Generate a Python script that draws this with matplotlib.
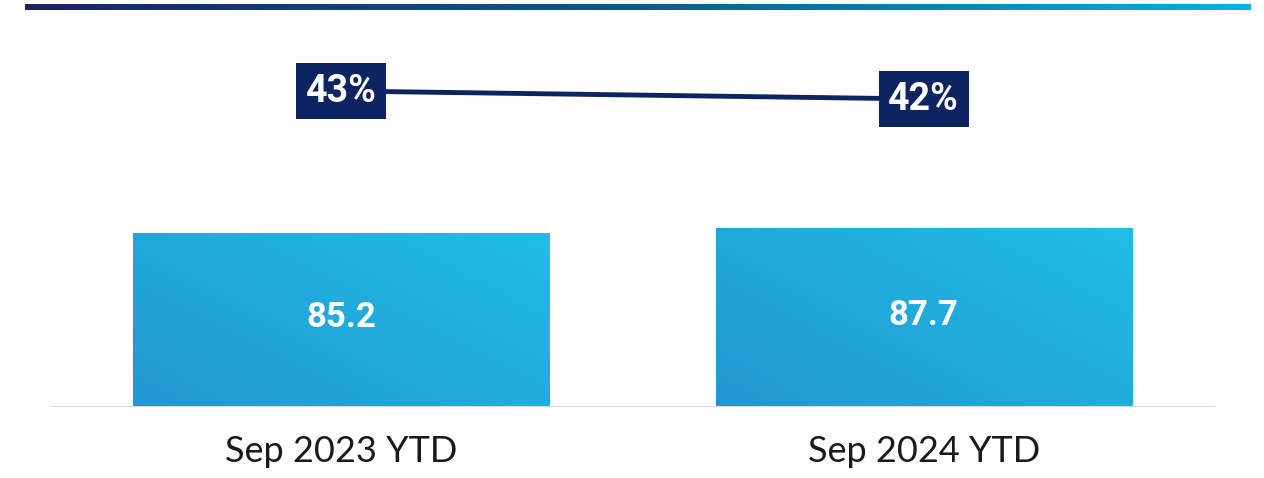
import numpy as np
import matplotlib
matplotlib.use("Agg")
import matplotlib.pyplot as plt
from matplotlib.colors import LinearSegmentedColormap
from matplotlib.patches import Rectangle

# data
categories = ["Sep 2023 YTD", "Sep 2024 YTD"]
bar_values = [85.2, 87.7]
bar_labels = ["85.2", "87.7"]
pct_values = [43, 42]
pct_labels = ["43%", "42%"]

W, H = 1264, 478
fig = plt.figure(figsize=(W / 100, H / 100), dpi=100)

# top gradient rule
top = fig.add_axes([25 / W, (H - 10) / H, 1226 / W, 6 / H])
rule_cmap = LinearSegmentedColormap.from_list("rule", ["#1b2461", "#0a5a92", "#00b4e2"])
top.imshow(np.linspace(0, 1, 256)[None, :], aspect="auto", cmap=rule_cmap, extent=[0, 1, 0, 1])
top.axis("off")

# main axes: baseline at y=407px, top at y=20px
ax = fig.add_axes([50 / W, (H - 407) / H, 1165 / W, 387 / H])

bar_cmap = LinearSegmentedColormap.from_list("bars", ["#2397d1", "#1fbee7"])
gx, gy = np.meshgrid(np.linspace(0, 1, 200), np.linspace(0, 1, 200))
grad = (gx * 0.55 + (1 - gy) * 0.45)

bw = 0.715
bars = ax.bar(range(len(categories)), bar_values, width=bw, color="none", edgecolor="none")
for i, b in enumerate(bars):
    x0, h = b.get_x(), b.get_height()
    im = ax.imshow(grad, cmap=bar_cmap, extent=[x0, x0 + bw, 0, h], aspect="auto",
                   origin="upper", zorder=2)
    im.set_clip_path(Rectangle((x0, 0), bw, h, transform=ax.transData))
    ax.text(i, h / 2 + 1, bar_labels[i], color="white", ha="center", va="center",
            fontsize=25, fontweight="bold", family="Roboto", zorder=3)
ax.set_xlim(-0.5, 1.5)
ax.set_ylim(0, 387 / 2.042)

ax.axhline(0, color="#d9d9d9", linewidth=1.5, zorder=4)
for s in ax.spines.values():
    s.set_visible(False)
ax.set_yticks([])
ax.set_xticks(range(len(categories)))
ax.set_xticklabels(categories, fontsize=26, family="Lato", color="#1a1a1a")
ax.tick_params(axis="x", length=0, pad=20)

# secondary axis for percentage line
ax2 = ax.twinx()
ax2.set_ylim(3.5, 3.5 + 387 / 8)
ax2.axis("off")
ax2.plot(range(len(pct_values)), pct_values, color="#0d2461", linewidth=3.5, zorder=2)
for i, v in enumerate(pct_values):
    ax2.text(i, v, pct_labels[i], color="white", ha="center", va="center",
             fontsize=27, fontweight="bold", family="Roboto", zorder=3,
             bbox=dict(boxstyle="square,pad=0.25", facecolor="#0d2461", edgecolor="none"))

fig.savefig("out.png", dpi=100)
